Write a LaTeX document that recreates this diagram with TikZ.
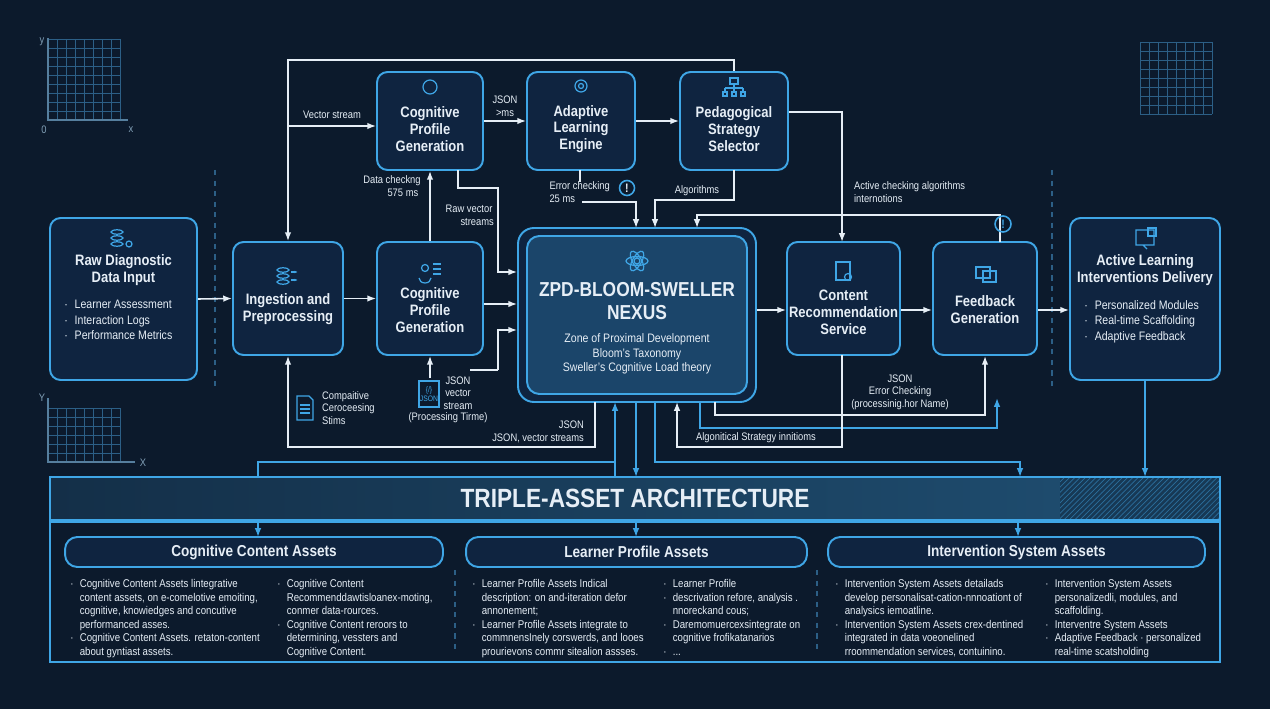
\documentclass[tikz,border=0pt]{standalone}
\usepackage{fontspec}
\setmainfont{Liberation Sans}[FakeStretch=0.86]
\usetikzlibrary{calc,positioning,arrows.meta,patterns}
\definecolor{bg}{HTML}{0C1A2C}
\definecolor{boxfill}{HTML}{0F2440}
\definecolor{edge}{HTML}{3FA6E6}
\definecolor{txt}{HTML}{E6EEF6}
\definecolor{gridc}{HTML}{2C5F86}
\tikzset{
  box/.style={draw=edge, line width=1.1pt, rounded corners=6pt, fill=boxfill},
  title/.style={text=txt, font=\bfseries\fontsize{8.6}{9.6}\selectfont, align=center},
  note/.style={text=txt, font=\fontsize{6.2}{7.2}\selectfont, align=center, inner sep=1pt},
  body/.style={text=txt, font=\fontsize{6.4}{7.7}\selectfont, align=left, anchor=north west, inner sep=0pt},
  line/.style={-{Latex[length=5pt]}, draw=txt, line width=0.9pt},
  plain/.style={draw=txt, line width=0.9pt},
  bline/.style={-{Latex[length=5pt]}, draw=edge, line width=0.9pt},
  icon/.style={draw=edge, line width=0.7pt},
  dashline/.style={draw=gridc, dashed, line width=0.6pt}
}
\newcommand{\bl}{\makebox[1.6ex][l]{·}}
\newcommand{\ind}{\hspace*{1.6ex}}
% corner x, corner y, columns, rows (step 9)
\newcommand{\gridpatch}[4]{%
  \foreach \i in {0,...,#3} \draw[gridc, line width=0.3pt] (#1+9*\i,#2) -- (#1+9*\i,#2+9*#4);
  \foreach \j in {0,...,#4} \draw[gridc, line width=0.3pt] (#1,#2+9*\j) -- (#1+9*#3,#2+9*\j);}
\begin{document}
\begin{tikzpicture}[x=0.02cm, y=-0.02cm]
  \useasboundingbox (0,0) rectangle (1270,709);
  \fill[bg] (0,0) rectangle (1270,709);

  % grid decorations
  \gridpatch{48}{39}{8}{9}
  \draw[gridc!80!white, line width=0.7pt] (48,38) -- (48,120) -- (128,120);
  \node[note, text=gridc!60!white] at (42,42) {y};
  \node[note, text=gridc!60!white] at (44,130) {0};
  \node[note, text=gridc!60!white] at (131,130) {x};
  \gridpatch{1140}{42}{8}{8}
  \gridpatch{48}{408}{8}{6}
  \draw[gridc!80!white, line width=0.7pt] (48,398) -- (48,462) -- (135,462);
  \node[note, text=gridc!60!white] at (42,398) {Y};
  \node[note, text=gridc!60!white] at (143,463) {X};

  \draw[dashline] (215,170) -- (215,390);
  \draw[dashline] (1052,170) -- (1052,390);

  % main nodes
  \node[box, minimum width=2.94cm, minimum height=3.24cm] (raw) at (123.5,299) {};
  \node[box, minimum width=2.2cm, minimum height=2.26cm] (ingest) at (288,298.5) {};
  \node[box, minimum width=2.12cm, minimum height=1.96cm] (cpgt) at (430,121) {};
  \node[box, minimum width=2.16cm, minimum height=1.96cm] (ale) at (581,121) {};
  \node[box, minimum width=2.16cm, minimum height=1.96cm] (pss) at (734,121) {};
  \node[box, minimum width=2.12cm, minimum height=2.26cm] (cpgb) at (430,298.5) {};
  \node[box, minimum width=4.76cm, minimum height=3.48cm, rounded corners=9pt] (nexus) at (637,315) {};
  \node[draw=edge, line width=1.1pt, rounded corners=7pt, fill=edge!25!boxfill, minimum width=4.4cm, minimum height=3.16cm] (nexin) at (637,315) {};
  \node[box, minimum width=2.26cm, minimum height=2.26cm] (crs) at (843.5,298.5) {};
  \node[box, minimum width=2.08cm, minimum height=2.26cm] (fb) at (985,298.5) {};
  \node[box, minimum width=3.0cm, minimum height=3.24cm] (act) at (1145,299) {};

  % texts
  \node[title] at (123.5,270) {Raw Diagnostic\\Data Input};
  \node[body, font=\fontsize{7}{8.8}\selectfont] at (64,300) {\bl Learner Assessment\\\bl Interaction Logs\\\bl Performance Metrics};
  \node[title] at (288,309) {Ingestion and\\Preprocessing};
  \node[title] at (430,129) {Cognitive\\Profile\\Generation};
  \node[title] at (581,129) {Adaptive\\Learning\\Engine};
  \node[title] at (734,129) {Pedagogical\\Strategy\\Selector};
  \node[title] at (430,310) {Cognitive\\Profile\\Generation};
  \node[title, font=\bfseries\fontsize{11.5}{13}\selectfont] at (637,301) {ZPD-BLOOM-SWELLER\\NEXUS};
  \node[note, font=\fontsize{7}{8.2}\selectfont] at (637,354) {Zone of Proximal Development\\Bloom's Taxonomy\\Sweller's Cognitive Load theory};
  \node[title] at (843.5,312) {Content\\Recommendation\\Service};
  \node[title] at (985,310) {Feedback\\Generation};
  \node[title] at (1145,270) {Active Learning\\Interventions Delivery};
  \node[body, font=\fontsize{7}{8.8}\selectfont] at (1084,300) {\bl Personalized Modules\\\bl Real-time Scaffolding\\\bl Adaptive Feedback};

  % icons
  \foreach \yy in {232,238,244} \draw[icon] (117,\yy) ellipse (6 and 2.2);
  \draw[icon] (129,244) circle (3);
  \foreach \yy in {270,276,282} \draw[icon] (283,\yy) ellipse (6 and 2.2);
  \draw[icon, -{Latex[length=2pt]}] (291,272) -- (298,272);
  \draw[icon, -{Latex[length=2pt]}] (291,280) -- (298,280);
  \draw[icon] (430,87) circle (7);
  \draw[icon] (581,86) circle (6);
  \draw[icon] (581,86) circle (2.5);
  \draw[icon] (730,78) rectangle (738,84) (734,84) -- (734,88) (725,88) -- (743,88) (725,88) -- (725,92) (734,88) -- (734,92) (743,88) -- (743,92)
    (723,92) rectangle (727,96) (732,92) rectangle (736,96) (741,92) rectangle (745,96);
  \draw[icon] (425,268) circle (3.5) (419,278) arc (180:0:6 and 5);
  \draw[icon] (433,264) -- (441,264) (433,269) -- (441,269) (433,274) -- (441,274);
  \draw[icon] (637,261) circle (3) (637,261) ellipse (11 and 4.5);
  \draw[icon, rotate around={60:(637,261)}] (637,261) ellipse (11 and 4.5);
  \draw[icon, rotate around={-60:(637,261)}] (637,261) ellipse (11 and 4.5);
  \draw[icon] (836,262) rectangle (850,280);
  \draw[icon] (848,277) circle (3.5);
  \draw[icon] (976,267) rectangle (990,278) (983,271) rectangle (996,282);
  \draw[icon] (1136,230) rectangle (1154,245) (1143,245) -- (1147,249);
  \draw[icon] (1148,228) rectangle (1156,236);

  % forward flow
  \draw[line] (raw.east) -- (ingest.east -| ingest.west);
  \draw[line] (ingest) -- (cpgb);
  \draw[line] (cpgb.north) -- (cpgt.south);
  \draw[line] (cpgt) -- node[note, above=1pt] {JSON\\>ms} (ale);
  \draw[line] (ale) -- (pss);
  \draw[line] (pss.north) -- (734,60) -- (288,60) -- (ingest.north);
  \draw[line] (288,126) -- node[note, above=3pt] {Vector stream} (cpgt.west |- 288,126);
  \draw[line] (458,170) -- (458,188) -- (498,188) -- (498,272) -- (nexus.west |- 0,272);
  \draw[line] (cpgb.east |- 0,304) -- (nexus.west |- 0,304);
  \draw[plain] (470,370) -- (498,370);
  \draw[line] (498,370) -- (498,330) -- (nexus.west |- 0,330);
  \draw[plain] (580,170) -- (580,182);
  \draw[line] (582,202) -- (636,202) -- (636,228);
  \draw[line] (734,170) -- (734,200) -- (655,200) -- (655,228);
  \draw[line] (pss.east |- 0,112) -- (842,112) -- (842,242);
  \draw[line] (1000,242) -- (1000,215) -- (697,215) -- (697,228);
  \draw[line] (nexus.east |- 0,310) -- (crs.west |- 0,310);
  \draw[line] (crs.east |- 0,310) -- (fb.west |- 0,310);
  \draw[line] (fb.east |- 0,310) -- (act.west |- 0,310);
  \draw[line] (430,378) -- (cpgb.south);

  % return paths
  \draw[line] (715,402) -- (715,415) -- (985,415) -- (fb.south);
  \draw[bline] (700,402) -- (700,428) -- (997,428) -- (997,398);
  \draw[line] (595,402) -- (595,447) -- (288,447) -- (ingest.south);
  \draw[line] (842,355) -- (842,447) -- (677,447) -- (677,402);

  % labels
  \node[note] at (392,186) {Data checkng\\\hspace*{2em}575 ms};
  \node[note] at (469,215) {Raw vector\\\hspace*{1.5em}streams};
  \node[note, anchor=east, align=left] at (612,192) {Error checking\\25 ms\hspace*{3em}};
  \draw[icon, line width=0.9pt] (627,188) circle (7.5);
  \node[note, font=\bfseries\fontsize{7}{8}\selectfont] at (627,188) {!};
  \node[note] at (697,191) {Algorithms};
  \node[note, anchor=west, align=left] at (852,192) {Active checking algorithms\\internotions};
  \draw[icon, line width=0.9pt] (1003,224) circle (8);
  \node[note, font=\bfseries\fontsize{7}{8}\selectfont, text=edge] at (1003,224) {!};
  \node[note, align=left, anchor=west] at (320,408) {Compaitive\\Ceroceesing\\Stims};
  \draw[icon] (297,396) -- (309,396) -- (313,400) -- (313,420) -- (297,420) -- cycle;
  \draw[icon] (300,405) -- (310,405) (300,409) -- (310,409) (300,413) -- (310,413);
  \draw[icon] (419,381) rectangle (439,407);
  \node[note, font=\fontsize{4.5}{5}\selectfont, text=edge] at (429,394) {\{/\}\\JSON};
  \node[note] at (458,393) {JSON\\vector\\stream};
  \node[note] at (448,418) {(Processing Tirme)};
  \node[note, align=right, anchor=east] at (586,432) {JSON\\JSON, vector streams};
  \node[note] at (756,438) {Algonitical Strategy innitioms};
  \node[note] at (900,392) {JSON\\Error Checking\\(processinig.hor Name)};

  % triple asset architecture
  \draw[bline] (615,477) -- (615,402);
  \draw[bline] (636,402) -- (636,477);
  \draw[edge, line width=0.9pt] (258,477) -- (258,462) -- (615,462);
  \draw[bline] (655,402) -- (655,462) -- (1020,462) -- (1020,477);
  \draw[bline] (act.south) -- (1145,477);
  \shade[left color=edge!15!bg, right color=edge!35!bg] (50,477) rectangle (1060,520);
  \fill[edge!22!bg] (1060,477) rectangle (1220,520);
  \fill[pattern=north east lines, pattern color=edge!60!bg] (1060,477) rectangle (1220,520);
  \node[draw=edge, line width=1pt, minimum width=23.4cm, minimum height=0.86cm] (triple) at (635,498.5) {};
  \node[title, font=\bfseries\fontsize{15}{17}\selectfont] at (635,498.5) {TRIPLE-ASSET ARCHITECTURE};
  \node[draw=edge, line width=1pt, minimum width=23.4cm, minimum height=2.8cm] (assets) at (635,592) {};
  \foreach \xx in {258,636,1018} \draw[bline] (\xx,520) -- (\xx,537);
  \draw[dashline] (455,570) -- (455,650);
  \draw[dashline] (817,570) -- (817,650);
  \node[box, minimum width=7.56cm, minimum height=0.6cm, rounded corners=7pt] (cca) at (254,552) {};
  \node[box, minimum width=6.82cm, minimum height=0.6cm, rounded corners=7pt] (lpa) at (636.5,552) {};
  \node[box, minimum width=7.54cm, minimum height=0.6cm, rounded corners=7pt] (isa) at (1016.5,552) {};
  \node[title, font=\bfseries\fontsize{9}{10}\selectfont] at (254,552) {Cognitive Content Assets};
  \node[title, font=\bfseries\fontsize{9}{10}\selectfont] at (636.5,552) {Learner Profile Assets};
  \node[title, font=\bfseries\fontsize{9}{10}\selectfont] at (1016.5,552) {Intervention System Assets};

  \node[body] at (70,579) {\bl Cognitive Content Assets lintegrative\\\ind content assets, on e-comelotive emoiting,\\\ind cognitive, knowiedges and concutive\\\ind performanced asses.\\\bl Cognitive Content Assets. retaton-content\\\ind about gyntiast assets.};
  \node[body] at (277,579) {\bl Cognitive Content\\\ind Recommenddawtisloanex-moting,\\\ind conmer data-rources.\\\bl Cognitive Content reroors to\\\ind determining, vessters and\\\ind Cognitive Content.};
  \node[body] at (472,579) {\bl Learner Profile Assets Indical\\\ind description: on and-iteration defor\\\ind annonement;\\\bl Learner Profile Assets integrate to\\\ind commnensInely corswerds, and looes\\\ind prourievons commr sitealion assses.};
  \node[body] at (663,579) {\bl Learner Profile\\\bl descrivation refore, analysis .\\\ind nnoreckand cous;\\\bl Daremomuercexsintegrate on\\\ind cognitive frofikatanarios\\\bl ...};
  \node[body] at (835,579) {\bl Intervention System Assets detailads\\\ind develop personalisat-cation-nnnoationt of\\\ind analysics iemoatline.\\\bl Intervention System Assets crex-dentined\\\ind integrated in data voeonelined\\\ind rroommendation services, contuinino.};
  \node[body] at (1045,579) {\bl Intervention System Assets\\\ind personalizedli, modules, and\\\ind scaffolding.\\\bl Interventre System Assets\\\bl Adaptive Feedback · personalized\\\ind real-time scatsholding};
\end{tikzpicture}
\end{document}
